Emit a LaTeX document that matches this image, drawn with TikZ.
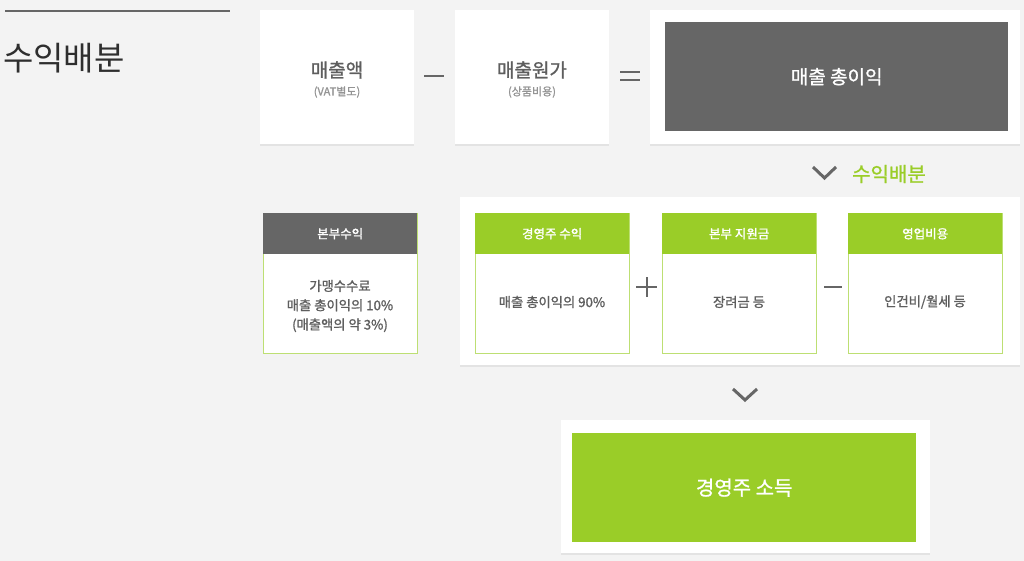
\documentclass[tikz,border=0pt]{standalone}
\usepackage{fontspec}
\setmainfont{Noto Sans CJK KR}
\newfontfamily\medf[FakeBold=1.2]{Noto Sans CJK KR}
\definecolor{bg}{HTML}{F3F3F3}
\definecolor{dgray}{HTML}{666666}
\definecolor{lgreen}{HTML}{9ACD28}
\definecolor{tgray}{HTML}{5E5E5E}
\definecolor{shadowc}{HTML}{E3E3E3}
\newcommand{\fs}[1]{\fontsize{#1}{\fpeval{1.3*#1}}\selectfont}
\begin{document}
\begin{tikzpicture}[x=1pt,y=-1pt,
  card/.style={fill=white, inner sep=0pt, anchor=north west,
    preaction={fill=shadowc, transform canvas={yshift=-2pt}}},
  plain/.style={inner sep=0pt, anchor=north west},
  gbox/.style={plain, fill=white, draw=lgreen!65, line width=1.3pt, minimum width=154, minimum height=140},
  hdr/.style={plain, minimum width=154, minimum height=41, text=white, font=\medf\fs{12.5}},
  body/.style={text=tgray, font=\medf\fs{13.3}, align=center, inner sep=0pt},
  sym/.style={draw=dgray, line width=2.6pt},
  chev/.style={draw=dgray, line width=3pt}
]
\fill[bg] (0,0) rectangle (1024,561);
\useasboundingbox (0,0) rectangle (1024,561);

% title
\coordinate (tl1) at (5,11);
\coordinate (tl2) at (230,11);
\draw[dgray, line width=2pt] (tl1) -- (tl2);
\node[anchor=west, inner sep=0pt, text=black!82, font=\fs{33}] (title) at (3,58) {수익배분};

% top row
\node[card, minimum width=154, minimum height=134] (sales) at (260,10) {};
\node[body, font=\medf\fs{19}] (salesT) at (337,70) {매출액};
\node[body, font=\medf\fs{11}, text=black!42] (salesS) at (337,92) {(VAT별도)};

\draw[sym] (424,76) -- (444,76);

\node[card, minimum width=154, minimum height=134] (cost) at (455,10) {};
\node[body, font=\medf\fs{19}] (costT) at (532,70) {매출원가};
\node[body, font=\medf\fs{11}, text=black!42] (costS) at (532,92) {(상품비용)};

\draw[dgray, line width=2.4pt] (620,72) -- (640,72) (620,80) -- (640,80);

\node[card, minimum width=370, minimum height=134] (gpOuter) at (650,10) {};
\node[plain, fill=dgray, minimum width=343, minimum height=109] (gp) at (665,22) {};
\node[text=white, font=\medf\fs{19}, inner sep=0pt] (gpT) at (gp.center) {매출 총이익};

% distribution label
\draw[chev] (813,167) -- (824.5,178) -- (836,167);
\node[anchor=west, inner sep=0pt, text=lgreen, font=\medf\fs{20}] (distT) at (852,174) {수익배분};

% left box
\node[gbox] (hq) at (263,213) {};
\node[hdr, fill=dgray] (hqH) at (263,213) {본부수익};
\node[body] (hqT) at (340,306) {가맹수수료\\[2pt]매출 총이익의 10\%\\[2pt](매출액의 약 3\%)};

% big panel
\node[card, minimum width=560, minimum height=168] (panel) at (460,197) {};

\node[gbox] (own) at (475,213) {};
\node[hdr, fill=lgreen] (ownH) at (475,213) {경영주 수익};
\node[body] (ownT) at (552,302) {매출 총이익의 90\%};

\draw[dgray, line width=2pt] (636,287) -- (657,287) (646.5,277) -- (646.5,297);

\node[gbox] (sup) at (662,213) {};
\node[hdr, fill=lgreen] (supH) at (662,213) {본부 지원금};
\node[body] (supT) at (739,302) {장려금 등};

\draw[sym] (824,287) -- (842,287);

\node[gbox] (opx) at (848,213) {};
\node[hdr, fill=lgreen] (opxH) at (848,213) {영업비용};
\node[body] (opxT) at (925,302) {인건비/월세 등};

% bottom
\draw[chev] (733,389) -- (745,400) -- (757,389);
\node[card, minimum width=369, minimum height=133] (incOuter) at (561,420) {};
\node[plain, fill=lgreen, minimum width=344, minimum height=109] (inc) at (572,433) {};
\node[text=white, font=\medf\fs{20}, inner sep=0pt] (incT) at (inc.center) {경영주 소득};
\end{tikzpicture}
\end{document}
